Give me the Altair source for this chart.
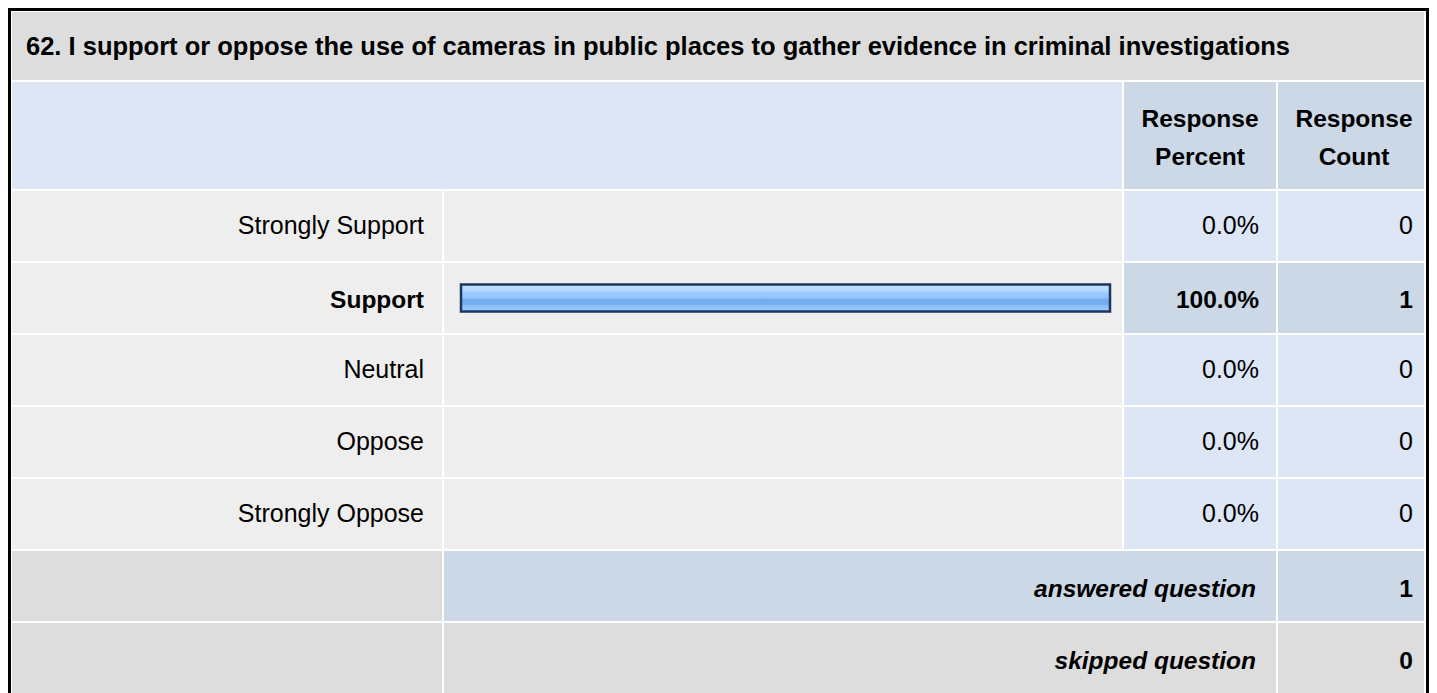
import altair as alt
import pandas as pd

# ---------------- data ----------------
title_text = "62. I support or oppose the use of cameras in public places to gather evidence in criminal investigations"
categories = ["Strongly Support", "Support", "Neutral", "Oppose", "Strongly Oppose"]
percents = [0.0, 100.0, 0.0, 0.0, 0.0]
counts = [0, 1, 0, 0, 0]
header_pct = ["Response", "Percent"]
header_cnt = ["Response", "Count"]
summary_labels = ["answered question", "skipped question"]
summary_counts = [1, 0]

# ---------------- layout (page pixel coordinates) ----------------
X0, Y0 = 8, 8
W, H = 1421, 685
COL_LABEL = (12, 442)
COL_BAR = (444, 1122)
COL_PCT = (1124, 1276)
COL_CNT = (1278, 1424)
TITLE_ROW = (12, 80)
HEAD_ROW = (82, 189)
ROW0, ROW_H, ROW_STEP = 191, 70, 72
BAR_RANGE = (461, 1110)
BAR_H = 27
PCT_CENTER, CNT_CENTER = 1200, 1354
LABEL_RIGHT, PCT_RIGHT, CNT_RIGHT, SUM_RIGHT = 424, 1259, 1413, 1256

FONT = "Liberation Sans"
C_TITLE = "#dddddd"
C_HEAD_L = "#dce6f4"
C_HEAD = "#ccd8e6"
C_ROW = "#eeeeee"
C_CELL = "#dce6f4"
C_HI = "#ccd8e6"
C_SUM = "#dddddd"

xs = alt.Scale(domain=[X0, X0 + W], nice=False, zero=False)
ys = alt.Scale(domain=[Y0, Y0 + H], nice=False, zero=False, reverse=True)

# ---------------- cells ----------------
cells = []
def cell(x, y, c):
    cells.append(dict(x=x[0], x2=x[1], y=y[0], y2=y[1], c=c))

cell((COL_LABEL[0], COL_CNT[1]), TITLE_ROW, C_TITLE)
cell((COL_LABEL[0], COL_BAR[1]), HEAD_ROW, C_HEAD_L)
cell(COL_PCT, HEAD_ROW, C_HEAD)
cell(COL_CNT, HEAD_ROW, C_HEAD)
top_count = max(counts)
for i, (cat, c) in enumerate(zip(categories, counts)):
    r = (ROW0 + i * ROW_STEP, ROW0 + i * ROW_STEP + ROW_H)
    cell(COL_LABEL, r, C_ROW)
    cell(COL_BAR, r, C_ROW)
    hc = C_HI if c == top_count else C_CELL
    cell(COL_PCT, r, hc)
    cell(COL_CNT, r, hc)
n = len(categories)
for j, lab in enumerate(summary_labels):
    top = ROW0 + (n + j) * ROW_STEP
    r = (top, top + ROW_H if j < len(summary_labels) - 1 else Y0 + H + 20)
    cc = C_HI if j == 0 else C_SUM
    cell(COL_LABEL, r, C_SUM)
    cell((COL_BAR[0], COL_PCT[1]), r, cc)
    cell(COL_CNT, r, cc)

# outer border (black frame on left, top, right)
border = [
    dict(x=X0, x2=X0 + 3, y=Y0, y2=Y0 + H, c="#000000"),
    dict(x=X0, x2=X0 + W, y=Y0, y2=Y0 + 3, c="#000000"),
    dict(x=X0 + W - 3, x2=X0 + W, y=Y0, y2=Y0 + H, c="#000000"),
]
cells_df = pd.DataFrame(cells + border)

cells_layer = alt.Chart(cells_df).mark_rect(strokeWidth=0).encode(
    x=alt.X("x:Q", scale=xs, axis=None),
    x2="x2:Q",
    y=alt.Y("y:Q", scale=ys, axis=None),
    y2="y2:Q",
    color=alt.Color("c:N", scale=None),
)

# ---------------- bar ----------------
bars_df = pd.DataFrame({
    "cat": categories,
    "pct": percents,
    "yc": [ROW0 + i * ROW_STEP + ROW_H / 2 for i in range(n)],
})
bars_df["y1"] = bars_df["yc"] - BAR_H / 2
bars_df["y2"] = bars_df["yc"] + BAR_H / 2
bars_df = bars_df[bars_df["pct"] > 0]

grad = alt.Gradient(
    gradient="linear",
    x1=0, x2=0, y1=0, y2=1,
    stops=[
        alt.GradientStop(offset=0.0, color="#c2e0ff"),
        alt.GradientStop(offset=0.22, color="#b4d8fe"),
        alt.GradientStop(offset=0.3, color="#9dcbfd"),
        alt.GradientStop(offset=0.5, color="#92c4fb"),
        alt.GradientStop(offset=0.56, color="#76adee"),
        alt.GradientStop(offset=0.72, color="#74acee"),
        alt.GradientStop(offset=0.8, color="#8dc1f8"),
        alt.GradientStop(offset=1.0, color="#9ccbfd"),
    ],
)
bar_layer = alt.Chart(bars_df).mark_rect(
    fill=grad, stroke="#1c3660", strokeWidth=2.5
).encode(
    x=alt.X("pct:Q", scale=alt.Scale(domain=[0, 100], range=[BAR_RANGE[0] - X0, BAR_RANGE[1] - X0]), axis=None),
    x2=alt.X2(datum=0),
    y=alt.Y("y1:Q", scale=ys, axis=None),
    y2="y2:Q",
)

# ---------------- texts ----------------
texts = []
texts.append(dict(x=26, y=55, t=title_text, k="title"))
for i, line in enumerate(header_pct):
    texts.append(dict(x=PCT_CENTER, y=127 + 38 * i, t=line, k="head"))
for i, line in enumerate(header_cnt):
    texts.append(dict(x=CNT_CENTER, y=127 + 38 * i, t=line, k="head"))
for i, (cat, p, c) in enumerate(zip(categories, percents, counts)):
    top = ROW0 + i * ROW_STEP
    bold = c == top_count
    k = "bold" if bold else "reg"
    yb = top + (45 if bold else 43)
    texts.append(dict(x=LABEL_RIGHT, y=yb, t=cat, k=k))
    texts.append(dict(x=PCT_RIGHT, y=yb, t=f"{p:.1f}%", k=k))
    texts.append(dict(x=CNT_RIGHT, y=yb, t=str(c), k=k))
for j, (lab, c) in enumerate(zip(summary_labels, summary_counts)):
    top = ROW0 + (n + j) * ROW_STEP
    texts.append(dict(x=SUM_RIGHT, y=top + 45.5, t=lab, k="sum"))
    texts.append(dict(x=CNT_RIGHT, y=top + 45.5, t=str(c), k="bold"))
texts_df = pd.DataFrame(texts)

styles = {
    "title": dict(align="left", fontWeight="bold", fontStyle="normal", fontSize=25.5),
    "head": dict(align="center", fontWeight="bold", fontStyle="normal", fontSize=24.5),
    "reg": dict(align="right", fontWeight="normal", fontStyle="normal", fontSize=25),
    "bold": dict(align="right", fontWeight="bold", fontStyle="normal", fontSize=24.5),
    "sum": dict(align="right", fontWeight="bold", fontStyle="italic", fontSize=24.5),
}
text_layers = []
for k, st in styles.items():
    text_layers.append(
        alt.Chart(texts_df).transform_filter(alt.datum.k == k).mark_text(
            font=FONT, baseline="alphabetic", color="#000000", **st
        ).encode(
            x=alt.X("x:Q", scale=xs, axis=None),
            y=alt.Y("y:Q", scale=ys, axis=None),
            text="t:N",
        )
    )

chart = alt.layer(cells_layer, bar_layer, *text_layers).resolve_scale(
    x="independent"
).properties(
    width=W, height=H, padding=0, autosize=alt.AutoSizeParams(type="none"),
    background="#ffffff",
).configure_view(stroke=None)

chart.save("out.html", embed_options={"renderer": "svg", "actions": False})
